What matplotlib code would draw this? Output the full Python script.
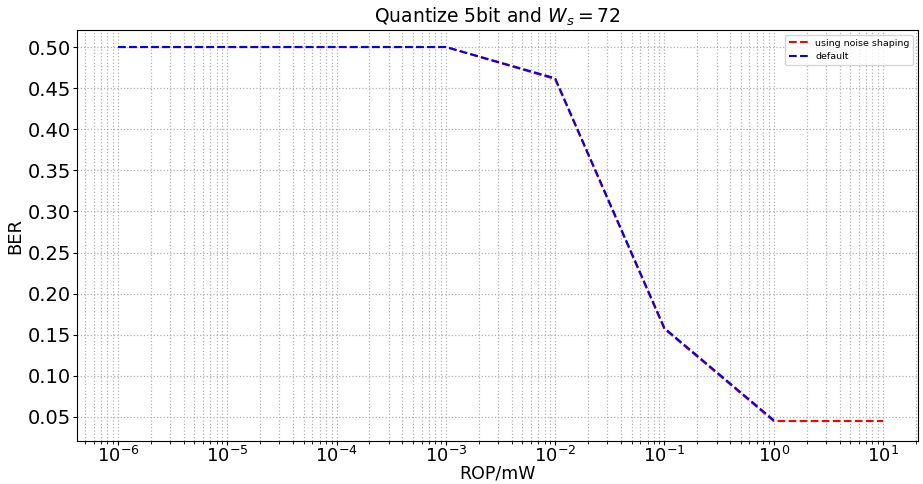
import matplotlib
matplotlib.use("Agg")
import matplotlib.pyplot as plt

rop = [1e-6, 1e-5, 1e-4, 1e-3, 1e-2, 1e-1, 1e0, 1e1]
ber_ns = [0.5, 0.5, 0.5, 0.5, 0.461, 0.157, 0.045, 0.045]
rop_default = [1e-6, 1e-5, 1e-4, 1e-3, 1e-2, 1e-1, 1e0]
ber_default = [0.5, 0.5, 0.5, 0.5, 0.462, 0.158, 0.046]

fig = plt.figure(figsize=(9.23, 4.84), dpi=100)
ax = fig.add_axes([77/923, 1 - 441/484, (918 - 77)/923, (441 - 30)/484])
ax.plot(rop, ber_ns, 'r--', label='using noise shaping')
ax.plot(rop_default, ber_default, 'b--', label='default')
ax.set_xscale('log')
ax.set_xlim(10**-6.375, 10**1.32)
ax.set_ylim(0.0207, 0.5207)
ax.set_yticks([0.05, 0.10, 0.15, 0.20, 0.25, 0.30, 0.35, 0.40, 0.45, 0.50])
ax.grid(which='both', linestyle=':', color='#b0b0b0', linewidth=0.9)
ax.tick_params(axis='y', labelsize=14, pad=1.5, length=3)
ax.tick_params(axis='x', which='major', labelsize=13, pad=0.5, length=3)
ax.tick_params(axis='x', which='minor', length=2)
ax.set_xlabel('ROP/mW', fontsize=12.5, va='center')
ax.xaxis.set_label_coords(0.5, -(473 - 441) / 411)
ax.set_ylabel('BER', fontsize=13, va='center')
ax.yaxis.set_label_coords(-(77 - 15) / 841, 0.5)
ax.set_title('Quantize 5bit and $W_s = 72$', fontsize=13.5, pad=5)
ax.legend(loc='upper right', fontsize=6.8)
fig.savefig('out.png', dpi=100)
